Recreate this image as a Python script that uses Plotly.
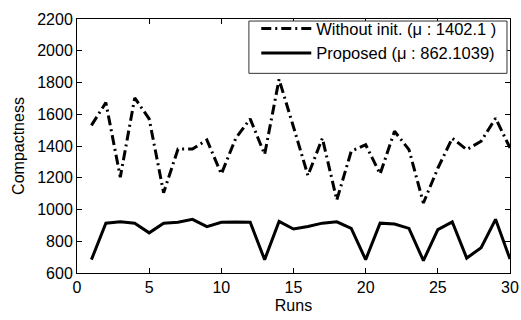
import plotly.graph_objects as go

runs = list(range(1, 31))
without_init = [1530, 1673, 1204, 1703, 1571, 1106, 1381, 1381, 1438, 1224,
                1449, 1571, 1347, 1820, 1520, 1214, 1449, 1060, 1367, 1408,
                1224, 1493, 1377, 1041, 1260, 1449, 1377, 1430, 1575, 1388]
proposed = [684, 914, 922, 914, 853, 914, 920, 938, 892, 920,
            922, 920, 684, 925, 877, 893, 914, 922, 881, 684,
            914, 908, 881, 678, 873, 922, 694, 759, 938, 688]

x_ticks = [0, 5, 10, 15, 20, 25, 30]
y_ticks = [600, 800, 1000, 1200, 1400, 1600, 1800, 2000, 2200]

font_family = "Liberation Sans, Arial, Helvetica, sans-serif"

fig = go.Figure()
fig.add_trace(go.Scatter(
    x=runs, y=without_init, mode="lines",
    name="Without init. (\u03bc : 1402.1 )",
    line=dict(color="black", width=3, dash="10px,4px,2px,4px"),
))
fig.add_trace(go.Scatter(
    x=runs, y=proposed, mode="lines",
    name="Proposed (\u03bc : 862.1039)",
    line=dict(color="black", width=3),
))

axis_common = dict(
    showline=True, linecolor="black", linewidth=1, mirror="ticks",
    ticks="inside", ticklen=5, tickcolor="black", tickwidth=1,
    showgrid=False, zeroline=False, automargin=False,
    tickfont=dict(family=font_family, size=16, color="black"),
)

# Legend frame drawn as a white box over the plot; the legend entries sit inside it
fig.add_shape(
    type="rect", xref="paper", yref="paper",
    x0=0.397, x1=0.993, y0=0.786, y1=0.992,
    fillcolor="white", line=dict(color="#333333", width=1), layer="above",
)

fig.update_layout(
    width=521, height=320,
    margin=dict(l=77, r=11, t=11, b=47),
    paper_bgcolor="white", plot_bgcolor="white",
    font=dict(family=font_family, size=16, color="black"),
    xaxis=dict(range=[0, 30], tickvals=x_ticks,
               title=dict(text="Runs", standoff=4,
                          font=dict(family=font_family, size=16)),
               **axis_common),
    yaxis=dict(range=[600, 2200], tickvals=y_ticks,
               title=dict(text="Compactness", standoff=8,
                          font=dict(family=font_family, size=16)),
               **axis_common),
    legend=dict(
        x=0.414, y=1.03, xanchor="left", yanchor="top",
        bgcolor="rgba(0,0,0,0)", borderwidth=0,
        font=dict(family=font_family, size=16.5, color="black"),
        itemwidth=50, tracegroupgap=0,
    ),
)

fig.write_html("out.html")
